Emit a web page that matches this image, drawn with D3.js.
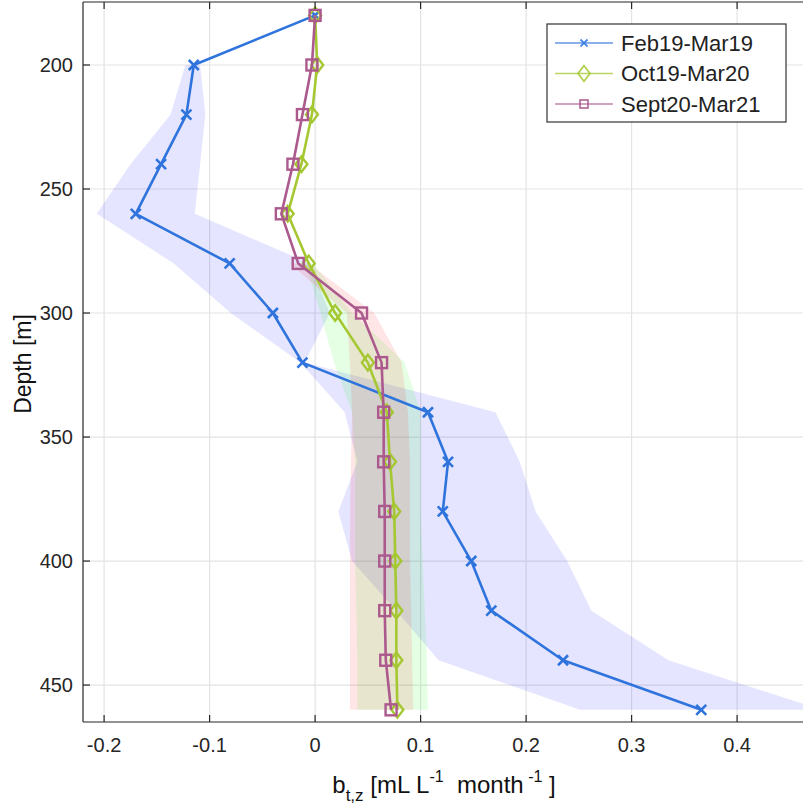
<!DOCTYPE html>
<html>
<head>
<meta charset="utf-8">
<script src="https://cdn.jsdelivr.net/npm/d3@7"></script>
<style>
  body { margin: 0; background: #fff; }
  svg { font-family: "Liberation Sans", Arial, Helvetica, sans-serif; }
</style>
</head>
<body>
<svg width="803" height="812"></svg>
<script>
const svg = d3.select("svg");

// depths of each profile point (m)
const depths = [180, 200, 220, 240, 260, 280, 300, 320, 340, 360, 380, 400, 420, 440, 460];
const feb19 = [0, -0.115, -0.122, -0.146, -0.170, -0.081, -0.040, -0.012, 0.107, 0.126, 0.121, 0.148, 0.167, 0.235, 0.366];
const oct19 = [0, 0.002, -0.003, -0.013, -0.026, -0.006, 0.019, 0.050, 0.068, 0.071, 0.075, 0.076, 0.077, 0.077, 0.078];
const sept20 = [0, -0.003, -0.012, -0.021, -0.032, -0.016, 0.044, 0.063, 0.065, 0.065, 0.066, 0.066, 0.066, 0.067, 0.072];

// shaded spread (lower / upper) per series
const febBandDepths = [200, 220, 240, 260, 280, 300, 320, 340, 360, 380, 400, 420, 440, 460];
const febLow  = [-0.123, -0.137, -0.175, -0.207, -0.134, -0.080, -0.014, 0.028, 0.040, 0.022, 0.035, 0.077, 0.117, 0.251];
const febHigh = [-0.109, -0.104, -0.109, -0.114, -0.005, 0.014, -0.010, 0.171, 0.194, 0.209, 0.239, 0.262, 0.335, 0.480];
const latBandDepths = [280, 300, 320, 340, 360, 380, 400, 420, 440, 460];
const octLow  = [-0.009, 0.005, 0.018, 0.035, 0.038, 0.038, 0.038, 0.039, 0.040, 0.040];
const octHigh = [-0.002, 0.035, 0.085, 0.100, 0.100, 0.100, 0.102, 0.104, 0.106, 0.107];
const septLow  = [-0.024, 0.030, 0.033, 0.035, 0.034, 0.033, 0.033, 0.033, 0.033, 0.033];
const septHigh = [-0.006, 0.056, 0.082, 0.088, 0.090, 0.090, 0.090, 0.091, 0.092, 0.093];

const xTicks = [-0.2, -0.1, 0, 0.1, 0.2, 0.3, 0.4];
const yTicks = [200, 250, 300, 350, 400, 450];

const plotLeft = 83, plotTop = 2, plotBottom = 722;
const x = d3.scaleLinear().domain([-0.22, 0.48]).range([plotLeft, plotLeft + 0.70 * 1055]);
const y = d3.scaleLinear().domain([174.6, 464.9]).range([plotTop, plotBottom]);

const series = [
  { name: "Feb19-Mar19", vals: feb19, color: "#2f74dc", band: "rgba(0,0,255,0.1)", bd: febBandDepths, lo: febLow, hi: febHigh, marker: "x" },
  { name: "Oct19-Mar20", vals: oct19, color: "#a5c832", band: "rgba(0,255,0,0.1)", bd: latBandDepths, lo: octLow, hi: octHigh, marker: "diamond" },
  { name: "Sept20-Mar21", vals: sept20, color: "#ac5a8e", band: "rgba(255,0,0,0.1)", bd: latBandDepths, lo: septLow, hi: septHigh, marker: "square" }
];

const plotW = 803 - plotLeft;
svg.append("defs").append("clipPath").attr("id", "clip")
  .append("rect").attr("x", plotLeft).attr("y", plotTop).attr("width", plotW).attr("height", plotBottom - plotTop);

// grid
const grid = svg.append("g").attr("stroke", "#e3e3e3").attr("stroke-width", 1.2);
grid.selectAll("line.v").data(xTicks).join("line")
  .attr("x1", d => x(d)).attr("x2", d => x(d)).attr("y1", plotTop).attr("y2", plotBottom);
grid.selectAll("line.h").data(yTicks).join("line")
  .attr("x1", plotLeft).attr("x2", 803).attr("y1", d => y(d)).attr("y2", d => y(d));

const plot = svg.append("g").attr("clip-path", "url(#clip)");

// bands
const area = d3.area()
  .x0(d => x(d.lo)).x1(d => x(d.hi)).y(d => y(d.z));
series.forEach(s => {
  const pts = s.bd.map((z, i) => ({ z: z, lo: s.lo[i], hi: s.hi[i] }));
  plot.append("path").datum(pts).attr("d", area).attr("fill", s.band);
});

// lines
const line = d3.line().x(d => x(d.v)).y(d => y(d.z));
function drawMarker(g, type, color, size) {
  if (type === "x") {
    g.append("path").attr("d", `M${-size},${-size}L${size},${size}M${-size},${size}L${size},${-size}`)
      .attr("stroke", color).attr("stroke-width", 2.6).attr("fill", "none");
  } else if (type === "diamond") {
    g.append("path").attr("d", `M0,${-size * 1.3}L${size},0L0,${size * 1.3}L${-size},0Z`)
      .attr("stroke", color).attr("stroke-width", 2.4).attr("fill", "none");
  } else {
    g.append("rect").attr("x", -size).attr("y", -size).attr("width", 2 * size).attr("height", 2 * size)
      .attr("stroke", color).attr("stroke-width", 2.4).attr("fill", "none");
  }
}
series.forEach(s => {
  const pts = depths.map((z, i) => ({ z: z, v: s.vals[i] }));
  plot.append("path").datum(pts).attr("d", line)
    .attr("fill", "none").attr("stroke", s.color).attr("stroke-width", 2.6).attr("stroke-linejoin", "round");
  const size = s.marker === "x" ? 5 : (s.marker === "diamond" ? 6 : 5.5);
  pts.forEach(p => {
    const g = plot.append("g").attr("transform", `translate(${x(p.v)},${y(p.z)})`);
    drawMarker(g, s.marker, s.color, size);
  });
});

// axes
const axisCol = "#262626";
svg.append("line").attr("x1", plotLeft).attr("x2", 803).attr("y1", plotTop).attr("y2", plotTop).attr("stroke", axisCol).attr("stroke-width", 1.2);
svg.append("line").attr("x1", plotLeft).attr("x2", 803).attr("y1", plotBottom).attr("y2", plotBottom).attr("stroke", axisCol).attr("stroke-width", 1.2);
svg.append("line").attr("x1", plotLeft).attr("x2", plotLeft).attr("y1", plotTop).attr("y2", plotBottom).attr("stroke", axisCol).attr("stroke-width", 1.2);

const xAxis = svg.append("g");
xTicks.forEach(t => {
  xAxis.append("line").attr("x1", x(t)).attr("x2", x(t)).attr("y1", plotBottom).attr("y2", plotBottom - 7).attr("stroke", axisCol).attr("stroke-width", 1.2);
  xAxis.append("line").attr("x1", x(t)).attr("x2", x(t)).attr("y1", plotTop).attr("y2", plotTop + 7).attr("stroke", axisCol).attr("stroke-width", 1.2);
  xAxis.append("text").attr("x", x(t)).attr("y", 752).attr("text-anchor", "middle")
    .attr("font-size", 20).attr("fill", axisCol).text(String(t));
});
const yAxis = svg.append("g");
yTicks.forEach(t => {
  yAxis.append("line").attr("x1", plotLeft).attr("x2", plotLeft + 7).attr("y1", y(t)).attr("y2", y(t)).attr("stroke", axisCol).attr("stroke-width", 1.2);
  yAxis.append("text").attr("x", 73).attr("y", y(t)).attr("dy", "0.36em").attr("text-anchor", "end")
    .attr("font-size", 20).attr("fill", axisCol).text(t);
});

// axis labels
svg.append("text").attr("transform", "translate(31,364) rotate(-90)").attr("text-anchor", "middle")
  .attr("font-size", 23).attr("fill", "#111").text("Depth [m]");

const xl = svg.append("text").attr("x", 444).attr("y", 793).attr("text-anchor", "middle")
  .attr("font-size", 24).attr("fill", "#111").attr("xml:space", "preserve");
xl.append("tspan").text("b");
xl.append("tspan").attr("font-size", 17).attr("dy", 8).text("t,z");
xl.append("tspan").attr("dy", -8).text(" [mL L");
xl.append("tspan").attr("font-size", 16).attr("dy", -11).text("-1");
xl.append("tspan").attr("dy", 11).text("  month");
xl.append("tspan").attr("font-size", 16).attr("dy", -11).text(" -1");
xl.append("tspan").attr("dy", 11).text(" ]");

// legend
const leg = svg.append("g");
leg.append("rect").attr("x", 547).attr("y", 24).attr("width", 239).attr("height", 98)
  .attr("fill", "#fff").attr("stroke", "#333").attr("stroke-width", 1.2);
series.forEach((s, i) => {
  const cy = 43 + i * 30.5;
  leg.append("line").attr("x1", 555).attr("x2", 613).attr("y1", cy).attr("y2", cy)
    .attr("stroke", s.color).attr("stroke-width", 1.3).attr("opacity", 0.75);
  const g = leg.append("g").attr("transform", `translate(584,${cy})`).attr("opacity", 0.85);
  const size = s.marker === "x" ? 3.5 : (s.marker === "diamond" ? 6 : 4);
  drawMarker(g, s.marker, s.color, size);
  g.selectAll("path,rect").attr("stroke-width", 1.8);
  leg.append("text").attr("x", 621).attr("y", cy).attr("dy", "0.36em")
    .attr("font-size", 22).attr("fill", "#222").text(s.name);
});
</script>
</body>
</html>
